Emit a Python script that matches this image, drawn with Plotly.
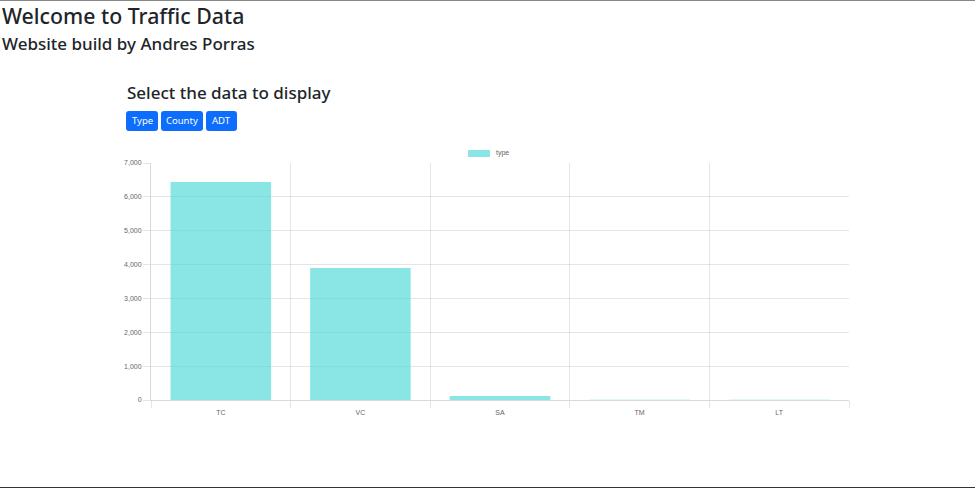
import plotly.graph_objects as go

# ---- data ----
categories = ["TC", "VC", "SA", "TM", "LT"]
type_counts = [6440, 3900, 120, 4, 8]
series_name = "type"
y_ticks = [0, 1000, 2000, 3000, 4000, 5000, 6000, 7000]
buttons = ["Type", "County", "ADT"]

W, H = 975, 488
L, R, T, B = 151, 849, 163, 400  # plot area in pixels

def px(x):
    return (x - L) / (R - L)

def py(y):
    return (B - y) / (B - T)

bar_color = "rgba(75,215,215,0.65)"
grid = "rgba(0,0,0,0.1)"
font_ui = "Noto Sans"

fig = go.Figure()
fig.add_trace(go.Bar(x=categories, y=type_counts, name=series_name,
                     marker=dict(color=bar_color, line=dict(width=0)),
                     width=0.72, showlegend=False, hoverinfo="x+y"))
# empty helper trace so the boundary-grid axis is drawn
fig.add_trace(go.Scatter(x=[], y=[], xaxis="x2", showlegend=False, hoverinfo="skip"))

shapes = []
annotations = []

# page texts
annotations.append(dict(text="Welcome to Traffic Data", x=px(0), y=py(15), xref="paper", yref="paper",
                        xanchor="left", yanchor="middle", showarrow=False,
                        font=dict(family=font_ui, size=21.3, color="#212529", weight=500)))
annotations.append(dict(text="Website build by Andres Porras", x=px(0), y=py(44), xref="paper", yref="paper",
                        xanchor="left", yanchor="middle", showarrow=False,
                        font=dict(family=font_ui, size=17, color="#212529", weight=500)))
annotations.append(dict(text="Select the data to display", x=px(125), y=py(92), xref="paper", yref="paper",
                        xanchor="left", yanchor="middle", showarrow=False,
                        font=dict(family=font_ui, size=17, color="#212529", weight=500)))

# buttons
btn_boxes = [(126, 158), (161, 203), (206, 237)]
by0, by1 = 111, 131
r = 3
for label, (bx0, bx1) in zip(buttons, btn_boxes):
    path = (f"M {px(bx0+r)} {py(by0)} L {px(bx1-r)} {py(by0)} "
            f"Q {px(bx1)} {py(by0)} {px(bx1)} {py(by0+r)} L {px(bx1)} {py(by1-r)} "
            f"Q {px(bx1)} {py(by1)} {px(bx1-r)} {py(by1)} L {px(bx0+r)} {py(by1)} "
            f"Q {px(bx0)} {py(by1)} {px(bx0)} {py(by1-r)} L {px(bx0)} {py(by0+r)} "
            f"Q {px(bx0)} {py(by0)} {px(bx0+r)} {py(by0)} Z")
    shapes.append(dict(type="path", path=path, xref="paper", yref="paper",
                       fillcolor="#0d6efd", line=dict(width=0), layer="above"))
    annotations.append(dict(text=label, x=px((bx0 + bx1) / 2), y=py((by0 + by1) / 2),
                            xref="paper", yref="paper", xanchor="center", yanchor="middle",
                            showarrow=False, font=dict(family=font_ui, size=9.5, color="white")))

# legend (drawn manually, Chart.js style)
shapes.append(dict(type="rect", xref="paper", yref="paper", x0=px(468), x1=px(490), y0=py(150), y1=py(157),
                   fillcolor=bar_color, line=dict(width=0)))
annotations.append(dict(text=series_name, x=px(494), y=py(153.5), xref="paper", yref="paper",
                        xanchor="left", yanchor="middle", showarrow=False,
                        font=dict(family="Arial", size=7, color="#666")))

# page borders
shapes.append(dict(type="line", xref="paper", yref="paper", x0=px(0), x1=px(W), y0=py(0.5), y1=py(0.5),
                   line=dict(color="#888", width=1)))
shapes.append(dict(type="line", xref="paper", yref="paper", x0=px(0), x1=px(W), y0=py(487.5), y1=py(487.5),
                   line=dict(color="#333", width=1)))

fig.update_layout(
    width=W, height=H,
    margin=dict(l=L, r=W - R, t=T, b=H - B, pad=0),
    paper_bgcolor="white", plot_bgcolor="white",
    shapes=shapes, annotations=annotations,
    showlegend=False,
    bargap=0.28,
    xaxis=dict(type="category", range=[-0.5, 4.5], showgrid=False, ticks="",
               tickfont=dict(family="Arial", size=7, color="#666"), ticklabelstandoff=6,
               showline=True, linecolor="rgba(0,0,0,0.15)", linewidth=1, zeroline=False, fixedrange=True),
    xaxis2=dict(overlaying="x", side="bottom", range=[-0.5, 4.5],
                tickvals=[-0.5, 0.5, 1.5, 2.5, 3.5, 4.5], showticklabels=False,
                showgrid=True, gridcolor=grid, gridwidth=1,
                ticks="outside", ticklen=7, tickcolor=grid, tickwidth=1,
                showline=False, zeroline=False, fixedrange=True),
    yaxis=dict(range=[0, 7000], tickvals=y_ticks, tickformat=",", showgrid=True, gridcolor=grid,
               ticks="outside", ticklen=7, tickcolor=grid,
               tickfont=dict(family="Arial", size=7, color="#666"),
               showline=True, linecolor="rgba(0,0,0,0.15)", zeroline=False, fixedrange=True),
)

fig.write_html("out.html", config={"displayModeBar": False},
               post_script="document.body.style.margin='0';document.body.style.overflow='hidden';")
